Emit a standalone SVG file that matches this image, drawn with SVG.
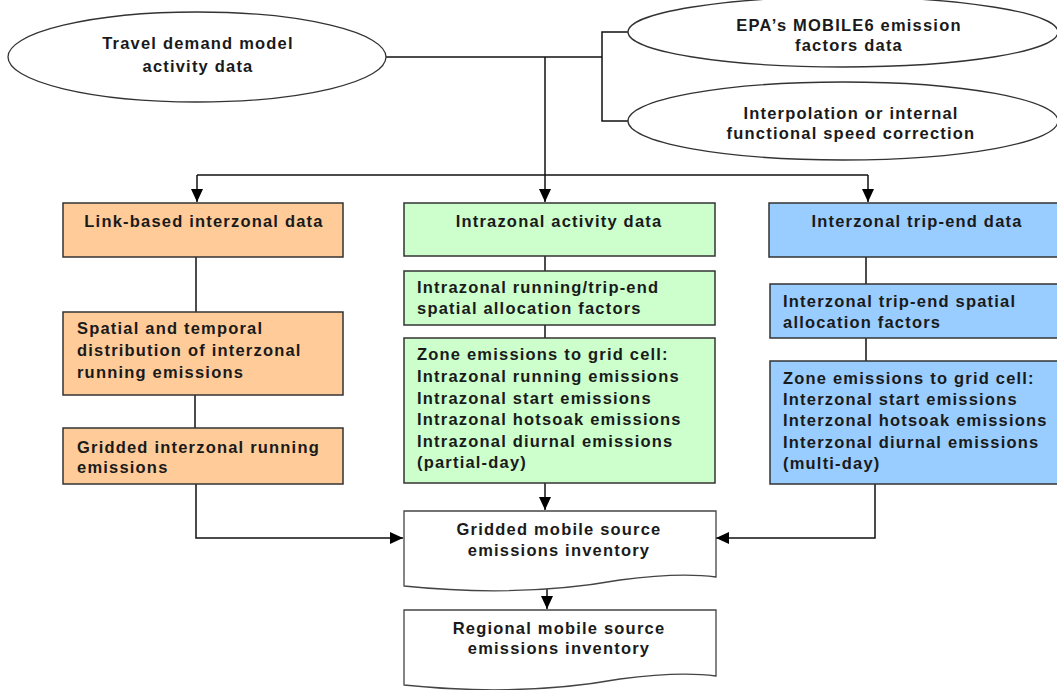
<svg xmlns="http://www.w3.org/2000/svg" width="1057" height="690" viewBox="0 0 1057 690">
<style>
  .t{font-family:"Liberation Sans",Arial,sans-serif;font-size:16.5px;font-weight:bold;letter-spacing:1.2px;fill:#1a1a1a}
  .c{text-anchor:middle}
  .ell{fill:#fff;stroke:#333;stroke-width:1.3}
  .or{fill:#FFCC99;stroke:#333;stroke-width:1.5}
  .gr{fill:#CCFFCC;stroke:#333;stroke-width:1.5}
  .bl{fill:#99CCFF;stroke:#333;stroke-width:1.5}
  .doc{fill:#fff;stroke:#444;stroke-width:1.3}
  .ln{fill:none;stroke:#111;stroke-width:1.5}
</style>
<defs>
  <marker id="ah" markerUnits="userSpaceOnUse" markerWidth="13" markerHeight="12" refX="13" refY="6" orient="auto">
    <path d="M0,0 L13,6 L0,12 z" fill="#000"/>
  </marker>
</defs>
<rect width="1057" height="690" fill="#fff"/>

<g id="connectors">
  <path class="ln" d="M386,57 H602"/>
  <path class="ln" d="M628,32 H602 V121 H628"/>
  <path class="ln" d="M545,57 V202" marker-end="url(#ah)"/>
  <path class="ln" d="M197,175 H868"/>
  <path class="ln" d="M197,175 V202" marker-end="url(#ah)"/>
  <path class="ln" d="M868,175 V202" marker-end="url(#ah)"/>
  <path class="ln" d="M196,257 V312"/>
  <path class="ln" d="M195,395 V428"/>
  <path class="ln" d="M196,484 V538 H403" marker-end="url(#ah)"/>
  <path class="ln" d="M545,256 V271"/>
  <path class="ln" d="M545,325 V338"/>
  <path class="ln" d="M545,483 V510" marker-end="url(#ah)"/>
  <path class="ln" d="M866,257 V284"/>
  <path class="ln" d="M866,338 V361"/>
  <path class="ln" d="M875,484 V538 H716" marker-end="url(#ah)"/>
  <path class="ln" d="M547,589 V609" marker-end="url(#ah)"/>
</g>

<g id="travel">
  <ellipse class="ell" cx="197" cy="57" rx="189" ry="45"/>
  <text class="t c" x="198" y="49">Travel demand model</text>
  <text class="t c" x="198" y="72">activity data</text>
</g>
<g id="epa">
  <ellipse class="ell" cx="843" cy="32" rx="215" ry="35"/>
  <text class="t c" x="849" y="31">EPA’s MOBILE6 emission</text>
  <text class="t c" x="849" y="51">factors data</text>
</g>
<g id="interp">
  <ellipse class="ell" cx="843" cy="121" rx="215" ry="39"/>
  <text class="t c" x="851" y="119">Interpolation or internal</text>
  <text class="t c" x="851" y="139">functional speed correction</text>
</g>

<g id="link-based">
  <rect class="or" x="63" y="203" width="280" height="54"/>
  <text class="t c" x="204" y="227">Link-based interzonal data</text>
</g>
<g id="spatial-temporal">
  <rect class="or" x="63" y="312" width="280" height="83"/>
  <text class="t" x="77" y="334">Spatial and temporal</text>
  <text class="t" x="77" y="356">distribution of interzonal</text>
  <text class="t" x="77" y="378">running emissions</text>
</g>
<g id="gridded-interzonal">
  <rect class="or" x="63" y="428" width="280" height="56"/>
  <text class="t" x="77" y="453">Gridded interzonal running</text>
  <text class="t" x="77" y="473">emissions</text>
</g>

<g id="intrazonal-activity">
  <rect class="gr" x="404" y="203" width="311" height="53"/>
  <text class="t c" x="559" y="227">Intrazonal activity data</text>
</g>
<g id="intrazonal-factors">
  <rect class="gr" x="404" y="271" width="311" height="54"/>
  <text class="t" x="417" y="293">Intrazonal running/trip-end</text>
  <text class="t" x="417" y="314">spatial allocation factors</text>
</g>
<g id="intrazonal-zone">
  <rect class="gr" x="404" y="338" width="311" height="145"/>
  <text class="t" x="417" y="360">Zone emissions to grid cell:</text>
  <text class="t" x="417" y="382">Intrazonal running emissions</text>
  <text class="t" x="417" y="403.5">Intrazonal start emissions</text>
  <text class="t" x="417" y="425">Intrazonal hotsoak emissions</text>
  <text class="t" x="417" y="446.5">Intrazonal diurnal emissions</text>
  <text class="t" x="417" y="468">(partial-day)</text>
</g>

<g id="interzonal-tripend">
  <rect class="bl" x="769" y="203" width="300" height="54"/>
  <text class="t c" x="917" y="227">Interzonal trip-end data</text>
</g>
<g id="interzonal-factors">
  <rect class="bl" x="770" y="284" width="300" height="54"/>
  <text class="t" x="783" y="307">Interzonal trip-end spatial</text>
  <text class="t" x="783" y="328">allocation factors</text>
</g>
<g id="interzonal-zone">
  <rect class="bl" x="770" y="361" width="300" height="123"/>
  <text class="t" x="783" y="384">Zone emissions to grid cell:</text>
  <text class="t" x="783" y="405">Interzonal start emissions</text>
  <text class="t" x="783" y="426">Interzonal hotsoak emissions</text>
  <text class="t" x="783" y="448">Interzonal diurnal emissions</text>
  <text class="t" x="783" y="469">(multi-day)</text>
</g>

<g id="gridded-inventory">
  <path class="doc" d="M404,511 H716 V577 Q680,572 620,580 Q520,598 404,586 Z"/>
  <text class="t c" x="559" y="535">Gridded mobile source</text>
  <text class="t c" x="559" y="556">emissions inventory</text>
</g>
<g id="regional-inventory">
  <path class="doc" d="M404,610 H716 V676 Q680,671 620,679 Q520,697 404,685 Z"/>
  <text class="t c" x="559" y="634">Regional mobile source</text>
  <text class="t c" x="559" y="654">emissions inventory</text>
</g>
</svg>
